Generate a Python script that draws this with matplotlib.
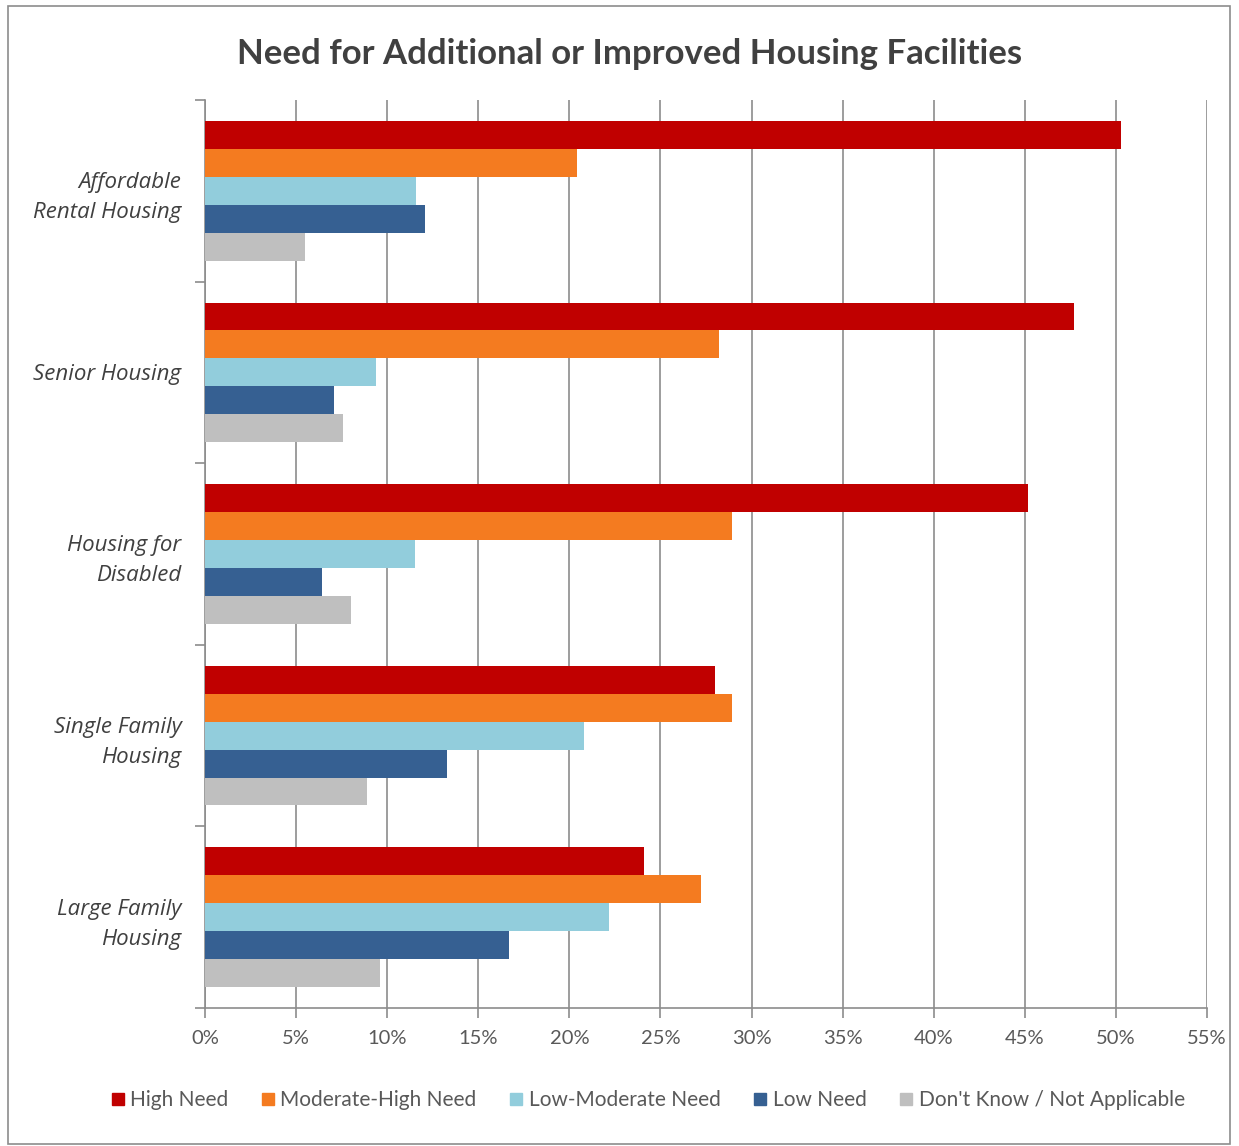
import matplotlib
matplotlib.use("Agg")
import matplotlib.pyplot as plt
import numpy as np
from matplotlib.patches import Rectangle
from matplotlib.lines import Line2D
from matplotlib.ticker import FixedLocator, PercentFormatter

categories = ["Affordable\nRental Housing", "Senior Housing", "Housing for\nDisabled",
              "Single Family\nHousing", "Large Family\nHousing"]
series_names = ["High Need", "Moderate-High Need", "Low-Moderate Need", "Low Need",
                "Don't Know / Not Applicable"]
high_need = [50.3, 47.7, 45.2, 28.0, 24.1]
moderate_high = [20.4, 28.2, 28.9, 28.9, 27.2]
low_moderate = [11.6, 9.4, 11.5, 20.8, 22.2]
low_need = [12.1, 7.1, 6.4, 13.3, 16.7]
dont_know = [5.5, 7.6, 8.0, 8.9, 9.6]
x_ticks = list(range(0, 56, 5))

series = [high_need, moderate_high, low_moderate, low_need, dont_know]
colors = ["#C00000", "#F47B20", "#92CDDC", "#366092", "#BFBFBF"]

plt.rcParams['font.family'] = ['Lato', 'DejaVu Sans']

fig = plt.figure(figsize=(12.39, 11.46), dpi=100)
ax = fig.add_axes([205/1239, 1 - 1008/1146, (1207-205)/1239, (1008-100)/1146])

n = len(series)
h = 1.0 / (n + 1.5)
ypos = np.arange(len(categories))
for k, (vals, col) in enumerate(zip(series, colors)):
    offs = (k - (n - 1) / 2) * h
    ax.barh(ypos + offs, vals, height=h, color=col, label=series_names[k], zorder=3)

ax.set_xlim(0, 55)
ax.set_ylim(len(categories) - 0.5, -0.5)
ax.xaxis.set_major_locator(FixedLocator(x_ticks))
ax.xaxis.set_major_formatter(PercentFormatter(decimals=0))
ax.grid(axis='x', color='#8c8c8c', linewidth=1.2, zorder=0)
ax.set_axisbelow(True)

ax.set_yticks(ypos)
ax.set_yticklabels(categories, fontstyle='italic', fontsize=16, color='#404040',
                   ha='right', linespacing=1.55, family=['Open Sans', 'DejaVu Sans'])
ax.tick_params(axis='y', length=0, pad=17)
ax.set_yticks(np.arange(-0.5, len(categories)), minor=True)
ax.tick_params(axis='y', which='minor', length=7, width=1.2, color='#8c8c8c', direction='out')
ax.tick_params(axis='x', length=7, width=1.2, color='#8c8c8c', direction='out',
               labelsize=14.5, labelcolor='#595959', pad=9)

for s in ['top', 'right']:
    ax.spines[s].set_visible(False)
for s in ['left', 'bottom']:
    ax.spines[s].set_color('#8c8c8c')
    ax.spines[s].set_linewidth(1.2)

fig.text(630/1239, 1 - 54/1146, "Need for Additional or Improved Housing Facilities",
         ha='center', va='center', fontsize=25, fontweight='bold', color='#404040')

handles = [Line2D([0], [0], marker='s', linestyle='none', markersize=9,
                  markerfacecolor=c, markeredgecolor=c) for c in colors]
fig.legend(handles, series_names, loc='center', bbox_to_anchor=(648/1239, 1 - 1100/1146),
           ncol=5, frameon=False, fontsize=15, handlelength=0.6, handletextpad=0.3,
           columnspacing=1.6, labelcolor='#595959')

fig.patches.append(Rectangle((8/1239, 2/1146), (1230-8)/1239, (1140-2)/1146,
                             transform=fig.transFigure, fill=False,
                             edgecolor='#8c8c8c', linewidth=1.2))

fig.savefig("out.png", dpi=100, facecolor='white')
